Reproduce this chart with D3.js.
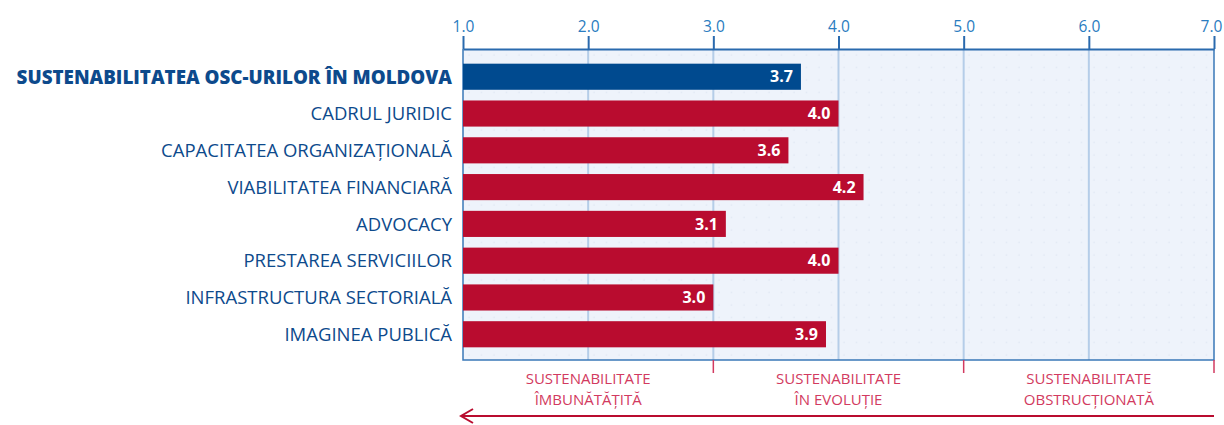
<!DOCTYPE html>
<html>
<head>
<meta charset="utf-8">
<script src="https://cdn.jsdelivr.net/npm/d3@7"></script>
<style>
  body { margin: 0; background: #fff; }
  svg { display: block; font-family: "Open Sans", Lato, sans-serif; }
</style>
</head>
<body>
<script>
  var categories = [
    "SUSTENABILITATEA OSC-URILOR ÎN MOLDOVA",
    "CADRUL JURIDIC",
    "CAPACITATEA ORGANIZAȚIONALĂ",
    "VIABILITATEA FINANCIARĂ",
    "ADVOCACY",
    "PRESTAREA SERVICIILOR",
    "INFRASTRUCTURA SECTORIALĂ",
    "IMAGINEA PUBLICĂ"
  ];
  var scores = [3.7, 4.0, 3.6, 4.2, 3.1, 4.0, 3.0, 3.9];
  var tickValues = [1, 2, 3, 4, 5, 6, 7];
  var zoneBreaks = [3, 5, 7];
  var zoneLabels = [
    ["SUSTENABILITATE", "ÎMBUNĂTĂȚITĂ"],
    ["SUSTENABILITATE", "ÎN EVOLUȚIE"],
    ["SUSTENABILITATE", "OBSTRUCȚIONATĂ"]
  ];
  var zoneCenters = [2, 4, 6];

  var width = 1224;
  var height = 425;
  var plotLeft = 463, plotRight = 1214, plotTop = 49, plotBottom = 360;

  var blue = "#004a8f";
  var red = "#b90c2f";
  var pink = "#d23a60";

  var svg = d3.select("body").append("svg")
    .attr("width", width)
    .attr("height", height);

  var x = d3.scaleLinear().domain([1, 7]).range([plotLeft, plotRight]);
  var y = d3.scaleBand().domain(categories).range([60, 351]).paddingInner(0.29).paddingOuter(0.1);

  // dotted background pattern
  var defs = svg.append("defs");
  var pat = defs.append("pattern")
    .attr("id", "dots")
    .attr("width", 12.5).attr("height", 12.5)
    .attr("patternUnits", "userSpaceOnUse")
    .attr("x", plotLeft).attr("y", plotTop);
  pat.append("rect").attr("width", 12.5).attr("height", 12.5).attr("fill", "#eef3fb");
  pat.append("circle").attr("cx", 6).attr("cy", 6).attr("r", 0.6).attr("fill", "#d6e0ee");

  svg.append("rect")
    .attr("x", plotLeft).attr("y", plotTop)
    .attr("width", plotRight - plotLeft).attr("height", plotBottom - plotTop)
    .attr("fill", "url(#dots)");

  // vertical grid lines
  svg.append("g").selectAll("line")
    .data(tickValues.slice(1, -1))
    .enter().append("line")
    .attr("x1", function (d) { return x(d); })
    .attr("x2", function (d) { return x(d); })
    .attr("y1", plotTop).attr("y2", plotBottom)
    .attr("stroke", "#b5cde8")
    .attr("stroke-width", 2);

  // frame: left, bottom, right
  svg.append("path")
    .attr("d", "M" + plotLeft + "," + plotTop + "V" + plotBottom + "H" + plotRight + "V" + plotTop)
    .attr("fill", "none")
    .attr("stroke", "#3a78b8")
    .attr("stroke-width", 1.5);

  // top axis
  var xAxis = d3.axisTop(x)
    .tickValues(tickValues)
    .tickSize(13)
    .tickSizeOuter(0)
    .tickFormat(d3.format(".1f"));

  var gx = svg.append("g")
    .attr("transform", "translate(0," + plotTop + ")")
    .call(xAxis);
  gx.select(".domain").attr("stroke", "#2a6aae").attr("stroke-width", 2);
  gx.selectAll(".tick line").attr("stroke", "#2a6aae").attr("stroke-width", 2);
  gx.selectAll(".tick text")
    .attr("fill", "#2a7cc0")
    .attr("font-size", 15.5)
    .attr("font-family", "'Open Sans', sans-serif")
    .attr("dy", "-0.05em")
    .attr("dx", function (d) { return d === 7 ? -3 : 0; });

  // bars
  svg.append("g").selectAll("rect")
    .data(scores)
    .enter().append("rect")
    .attr("x", x(1))
    .attr("y", function (d, i) { return y(categories[i]); })
    .attr("width", function (d) { return x(d) - x(1); })
    .attr("height", y.bandwidth())
    .attr("fill", function (d, i) { return i === 0 ? blue : red; });

  // value labels
  svg.append("g").selectAll("text")
    .data(scores)
    .enter().append("text")
    .attr("x", function (d) { return x(d) - 8; })
    .attr("y", function (d, i) { return y(categories[i]) + y.bandwidth() / 2; })
    .attr("dy", "0.36em")
    .attr("text-anchor", "end")
    .attr("fill", "#fff")
    .attr("font-size", 16)
    .attr("font-weight", "bold")
    .text(function (d) { return d.toFixed(1); });

  // category labels
  svg.append("g").selectAll("text")
    .data(categories)
    .enter().append("text")
    .attr("x", 452)
    .attr("y", function (d) { return y(d) + y.bandwidth() / 2; })
    .attr("dy", "0.36em")
    .attr("text-anchor", "end")
    .attr("fill", "#0d4a8c")
    .attr("font-size", function (d, i) { return i === 0 ? 18.8 : 18.5; })
    .attr("font-weight", function (d, i) { return i === 0 ? 800 : 500; })
    .text(function (d) { return d; });

  // bottom zone ticks
  svg.append("g").selectAll("line")
    .data(zoneBreaks)
    .enter().append("line")
    .attr("x1", function (d) { return x(d); })
    .attr("x2", function (d) { return x(d); })
    .attr("y1", plotBottom).attr("y2", plotBottom + 13)
    .attr("stroke", pink)
    .attr("stroke-width", 1.5);

  // zone labels, two lines each
  var zl = svg.append("g").selectAll("g")
    .data(zoneLabels)
    .enter().append("g")
    .attr("transform", function (d, i) { return "translate(" + x(zoneCenters[i]) + ",0)"; });
  [0, 1].forEach(function (line) {
    zl.append("text")
      .attr("y", 384 + line * 20.5)
      .attr("text-anchor", "middle")
      .attr("fill", pink)
      .attr("font-size", 15)
      .text(function (d) { return d[line]; });
  });

  // arrow
  svg.append("line")
    .attr("x1", plotLeft - 2).attr("x2", plotRight)
    .attr("y1", 416).attr("y2", 416)
    .attr("stroke", red)
    .attr("stroke-width", 2);
  svg.append("path")
    .attr("d", "M" + (plotLeft + 10) + ",409 L" + (plotLeft - 2) + ",416 L" + (plotLeft + 10) + ",423")
    .attr("fill", "none")
    .attr("stroke", red)
    .attr("stroke-width", 2);
</script>
</body>
</html>
